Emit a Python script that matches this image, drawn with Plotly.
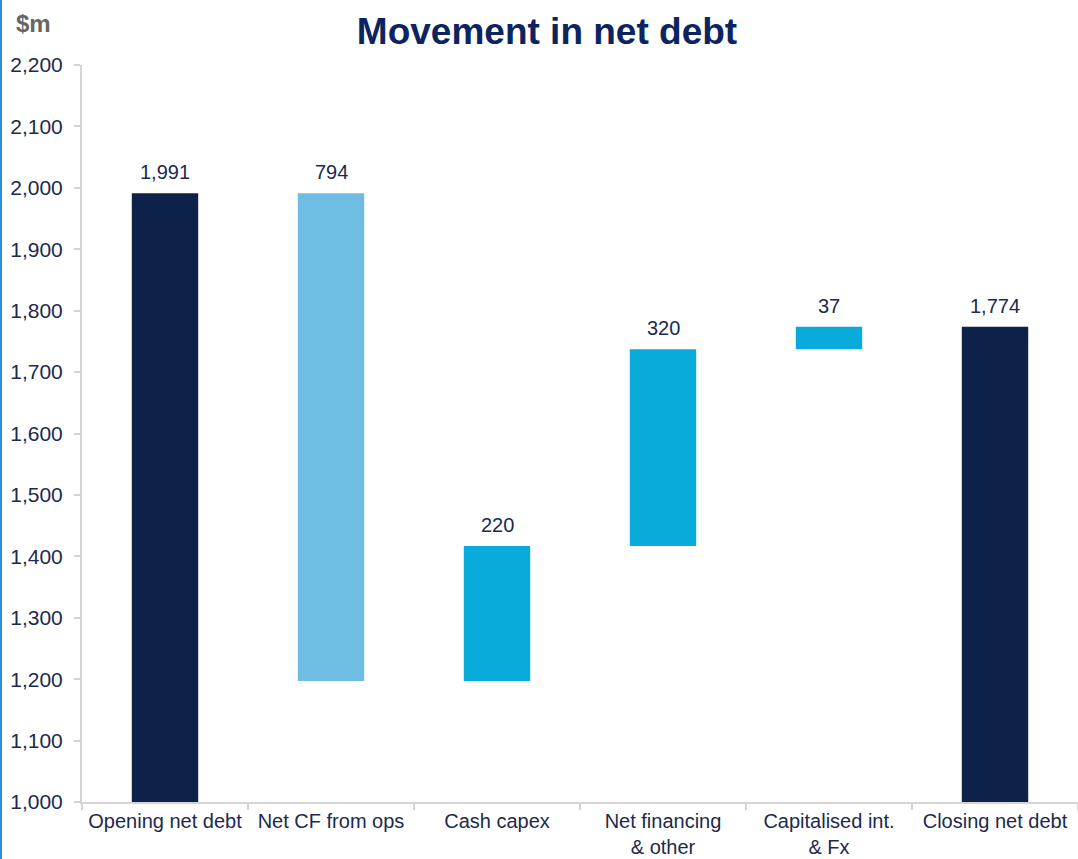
import plotly.graph_objects as go

# Net debt bridge ($m)
categories = ["Opening net debt", "Net CF from ops", "Cash capex",
              "Net financing<br>& other", "Capitalised int.<br>& Fx", "Closing net debt"]
measures = ["total", "decrease", "increase", "increase", "increase", "total"]
values = [1991, 794, 220, 320, 37, 1774]
labels = ["1,991", "794", "220", "320", "37", "1,774"]

NAVY = "#0E2149"
LIGHT = "#6FBDE3"
MID = "#09ABDB"
TEXT = "#1B2A4E"
AXIS = "#D4D4D4"
FONT = "Liberation Sans, Arial, sans-serif"

# Build floating bars: base and height for each step
bases, heights, colors, tops = [], [], [], []
level = 0
for m, v in zip(measures, values):
    if m == "total":
        level = v
        bases.append(1000)
        heights.append(v - 1000)
        colors.append(NAVY)
        tops.append(v)
    elif m == "decrease":
        bases.append(level - v)
        heights.append(v)
        colors.append(LIGHT)
        tops.append(level)
        level -= v
    else:
        bases.append(level)
        heights.append(v)
        colors.append(MID)
        level += v
        tops.append(level)

fig = go.Figure(go.Bar(
    x=categories, y=heights, base=bases,
    marker=dict(color=colors, line=dict(width=0)),
    width=0.4, hoverinfo="skip",
))

for cat, top, lab in zip(categories, tops, labels):
    fig.add_annotation(x=cat, y=top, text=lab, showarrow=False,
                       xanchor="center", yanchor="bottom", yshift=8,
                       font=dict(family=FONT, size=20, color=TEXT))

# Unit label
fig.add_annotation(xref="paper", yref="paper", x=(14 - 82) / 996, y=(802 - 24) / 737,
                   text="<b>$m</b>", showarrow=False, xanchor="left", yanchor="middle",
                   font=dict(family=FONT, size=24, color="#666666"))

# Thin blue rule at the left edge
fig.add_shape(type="rect", xref="paper", yref="paper",
              x0=-82 / 996, x1=-80 / 996, y0=-0.1, y1=1.1,
              fillcolor="#2A8FD8", line=dict(width=0), layer="above")

fig.update_layout(
    width=1078, height=859,
    margin=dict(l=82, r=0, t=65, b=57),
    paper_bgcolor="white", plot_bgcolor="white",
    showlegend=False,
    title=dict(text="<b>Movement in net debt</b>", x=547 / 1078, xref="container",
               xanchor="center", y=1 - 31 / 859, yanchor="middle",
               font=dict(family=FONT, size=37, color="#0D2462")),
    font=dict(family=FONT, size=20, color=TEXT),
)

fig.update_xaxes(
    type="category", range=[-0.5, 5.5], tickangle=0, automargin=False,
    showline=True, linecolor=AXIS, linewidth=2,
    ticks="outside", tickson="boundaries", ticklen=6, tickcolor=AXIS, tickwidth=2,
    showgrid=False, ticklabelstandoff=0,
    tickfont=dict(family=FONT, size=20, color=TEXT),
)
fig.update_yaxes(
    range=[1000, 2200], dtick=100, tickformat=",", automargin=False,
    showline=True, linecolor=AXIS, linewidth=2,
    ticks="outside", ticklen=6, tickcolor=AXIS, tickwidth=2,
    showgrid=False, zeroline=False, ticklabelstandoff=7,
    tickfont=dict(family=FONT, size=21, color=TEXT),
)

fig.write_html("out.html")
